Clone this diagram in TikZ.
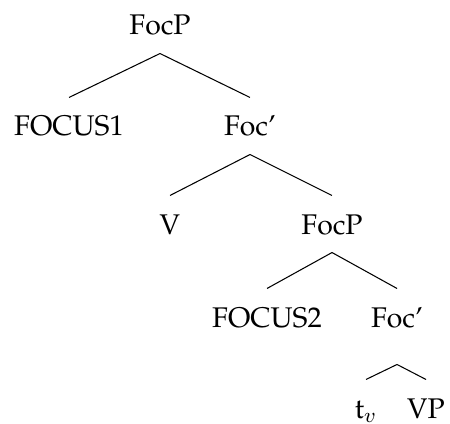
\documentclass[tikz,border=0pt]{standalone}
\usepackage[T1]{fontenc}
\usepackage{palatino}
\begin{document}
\begin{tikzpicture}[x=0.38pt,y=-0.38pt,
  lab/.style={anchor=base, inner xsep=0pt, inner ysep=6.84pt,
              text height=7.6pt, text depth=0pt,
              font=\fontsize{10.8}{13}\selectfont},
  branch/.style={line width=0.4pt}]
\useasboundingbox (0,0) rectangle (450,423);
% tree labels
\node[lab] (fp1) at (160,35)  {FocP};
\node[lab] (f1)  at (69,136)  {FOCUS1};
\node[lab] (fc1) at (250,136) {Foc'};
\node[lab] (v)   at (170,234) {V};
\node[lab] (fp2) at (332,234) {FocP};
\node[lab] (f2)  at (267,327) {FOCUS2};
\node[lab] (fc2) at (397,327) {Foc'};
\node[lab] (t)   at (366,418) {t$_v$};
\node[lab] (vp)  at (426,418) {VP};
% branches
\draw[branch] (fp1.south) -- (f1.north);
\draw[branch] (fp1.south) -- (fc1.north);
\draw[branch] (fc1.south) -- (v.north);
\draw[branch] (fc1.south) -- (fp2.north);
\draw[branch] (fp2.south) -- (f2.north);
\draw[branch] (fp2.south) -- (fc2.north);
\draw[branch] ([yshift=-7.2pt]fc2.south) -- (t.north);
\draw[branch] ([yshift=-7.2pt]fc2.south) -- (vp.north);
\end{tikzpicture}
\end{document}
